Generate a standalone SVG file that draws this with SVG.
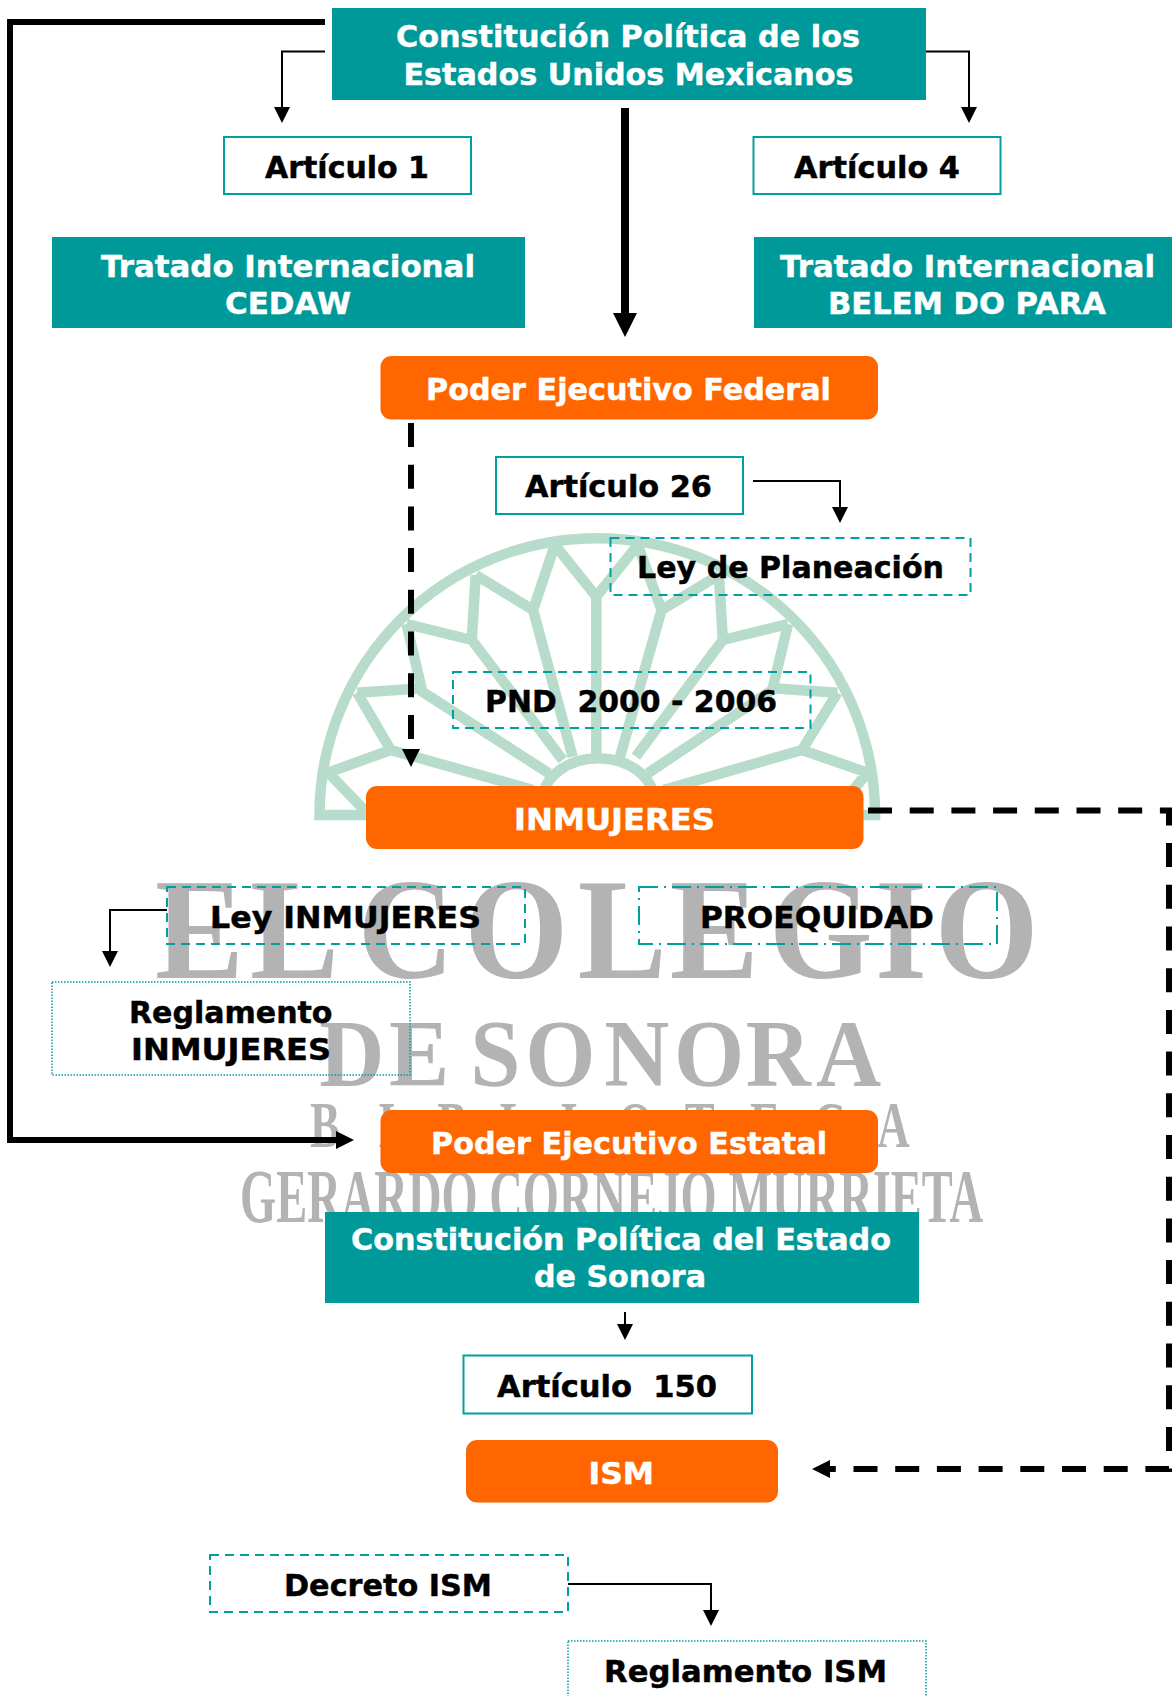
<svg xmlns="http://www.w3.org/2000/svg" width="1172" height="1696" viewBox="0 0 1172 1696">
<style>
.t{font-family:"DejaVu Sans","Verdana",sans-serif;font-weight:700;font-size:30px;text-anchor:start;white-space:pre;stroke-width:.45px}
.w{fill:#fff;stroke:#fff}.k{fill:#000;stroke:#000}
.teal{fill:#009999}.org{fill:#ff6600}
.box{fill:#fff;stroke:#00a0a0;stroke-width:2}
.dash{fill:none;stroke:#00a0a0;stroke-width:2;stroke-dasharray:9 6}
.dd{fill:none;stroke:#00a0a0;stroke-width:2;stroke-dasharray:19 6 2 6}
.dot{fill:none;stroke:#00a0a0;stroke-width:1.5;stroke-dasharray:1.5 1.5}
.wm{font-family:"Liberation Serif",serif;fill:#b3b3b3;font-weight:700}
.em{fill:none;stroke:#b8dccb;stroke-width:10.500;vector-effect:non-scaling-stroke;stroke-linejoin:miter}
.thin{fill:none;stroke:#000;stroke-width:2;marker-end:url(#hs)}
.thick{fill:none;stroke:#000;stroke-width:6}
.dk{fill:none;stroke:#000;stroke-width:6;stroke-dasharray:24 17.7}
</style>
<defs>
<marker id="hs" markerUnits="userSpaceOnUse" markerWidth="16" markerHeight="16" refX="0" refY="8" orient="auto"><path d="M0 0L16 8L0 16z"/></marker>
<marker id="hl" markerUnits="userSpaceOnUse" markerWidth="24" markerHeight="24" refX="0" refY="12" orient="auto"><path d="M0 0L24 12L0 24z"/></marker>
<marker id="hm" markerUnits="userSpaceOnUse" markerWidth="18" markerHeight="18" refX="0" refY="9" orient="auto"><path d="M0 0L18 9L0 18z"/></marker>
</defs>
<rect width="1172" height="1696" fill="#fff"/>
<g id="watermark">
<g transform="translate(280 500) scale(.3954 .3333)">
<path class="em" d="M100 945A702 830 0 0 1 1505 945Z"/>
<path class="em" d="M665 900A140 125 0 0 1 945 900"/>
<path class="em" d="M800 290V770M695 135L800 290L905 135M695 135L640 330L740 770M905 135L965 330L860 770M495 225L640 330M495 225L485 420L715 780M1110 225L965 330M1110 225L1120 420L900 770M320 372L485 420M320 372L360 575L680 820M1285 372L1120 420M1285 372L1245 570L930 820M195 578L360 565M195 578L280 750L640 870M1410 578L1245 565M1410 578L1320 750L970 870M122 818L280 750M122 818L225 945M1485 818L1320 750M1485 818L1400 945"/>
</g>
<text class="wm" transform="translate(0 978) scale(.92 1)" x="168.500 271.700 340 389 505 628 728 836 951 1016" y="0" font-size="145">EL COLEGIO</text>
<text class="wm" transform="translate(0 1086) scale(.95 1)" x="336 409.500 450 495 553 636 709.500 785 859" y="0" font-size="95">DE SONORA</text>
<text class="wm" transform="translate(0 1147) scale(.68 1)" x="456 556 643 735 824 909 1007 1103 1196 1290" y="0" font-size="66">BIBLIOTECA</text>
<text class="wm" x="240" y="1222" font-size="76" textLength="743" lengthAdjust="spacingAndGlyphs">GERARDO CORNEJO MURRIETA</text>
</g>
<g id="connectors">
<path class="thick" d="M325 22H10V1140H336" marker-end="url(#hm)"/>
<path class="thin" d="M325 51.500H282V107"/>
<path class="thin" d="M926 51.500H969V107"/>
<path d="M625 108V313" fill="none" stroke="#000" stroke-width="8" marker-end="url(#hl)"/>
<path class="thin" d="M753 481H840V507"/>
<path class="dk" d="M411 423V749" marker-end="url(#hm)"/>
<path class="thin" d="M167 910H110V951"/>
<path class="thin" d="M625 1312V1324"/>
<path class="dk" d="M868 810.500H1169V1469H830" marker-end="url(#hm)"/>
<path class="thin" d="M568 1584H711V1610"/>
</g>
<g id="n-constitucion"><rect class="teal" x="332" y="8" width="594" height="92"/>
<text class="t w" x="396" y="47" textLength="464" lengthAdjust="spacingAndGlyphs">Constitución Política de los</text>
<text class="t w" x="403.500" y="85" textLength="450" lengthAdjust="spacingAndGlyphs">Estados Unidos Mexicanos</text></g>
<g id="n-art1"><rect class="box" x="224" y="137" width="247" height="57"/>
<text class="t k" x="265" y="177.500" textLength="164" lengthAdjust="spacingAndGlyphs">Artículo 1</text></g>
<g id="n-art4"><rect class="box" x="753.500" y="137" width="247" height="57"/>
<text class="t k" x="794" y="177.500" textLength="166" lengthAdjust="spacingAndGlyphs">Artículo 4</text></g>
<g id="n-cedaw"><rect class="teal" x="52" y="237" width="473" height="91"/>
<text class="t w" x="101" y="277" textLength="374" lengthAdjust="spacingAndGlyphs">Tratado Internacional</text>
<text class="t w" x="225" y="313.500" textLength="126" lengthAdjust="spacingAndGlyphs">CEDAW</text></g>
<g id="n-belem"><rect class="teal" x="754" y="237" width="418" height="91"/>
<text class="t w" x="780" y="277" textLength="375" lengthAdjust="spacingAndGlyphs">Tratado Internacional</text>
<text class="t w" x="828" y="313.500" textLength="278" lengthAdjust="spacingAndGlyphs">BELEM DO PARA</text></g>
<g id="n-pef"><rect class="org" x="380.500" y="356" width="497.500" height="63.500" rx="11"/>
<text class="t w" x="426" y="399.500" textLength="405" lengthAdjust="spacingAndGlyphs">Poder Ejecutivo Federal</text></g>
<g id="n-art26"><rect class="box" x="496" y="457" width="247" height="57"/>
<text class="t k" x="525" y="497" textLength="187" lengthAdjust="spacingAndGlyphs">Artículo 26</text></g>
<g id="n-planeacion"><rect class="dash" x="610.500" y="538" width="360" height="57"/>
<text class="t k" x="637" y="578" textLength="307" lengthAdjust="spacingAndGlyphs">Ley de Planeación</text></g>
<g id="n-pnd"><rect class="dash" x="453" y="672" width="357.500" height="56"/>
<text class="t k" x="485" y="712" textLength="292" lengthAdjust="spacingAndGlyphs" xml:space="preserve">PND  2000 - 2006</text></g>
<g id="n-inmujeres"><rect class="org" x="366" y="786" width="497.500" height="63" rx="11"/>
<text class="t w" x="514" y="829.500" textLength="201" lengthAdjust="spacingAndGlyphs">INMUJERES</text></g>
<g id="n-ley"><rect class="dash" x="167" y="887" width="358" height="57"/>
<text class="t k" x="210" y="928" textLength="271" lengthAdjust="spacingAndGlyphs">Ley INMUJERES</text></g>
<g id="n-proequidad"><rect class="dd" x="639" y="887" width="358" height="57"/>
<text class="t k" x="700" y="928" textLength="234" lengthAdjust="spacingAndGlyphs">PROEQUIDAD</text></g>
<g id="n-reg-inm"><rect class="dot" x="52" y="982" width="358" height="93"/>
<text class="t k" x="129" y="1023" textLength="203.500" lengthAdjust="spacingAndGlyphs">Reglamento</text>
<text class="t k" x="131" y="1060" textLength="200" lengthAdjust="spacingAndGlyphs">INMUJERES</text></g>
<g id="n-pee"><rect class="org" x="380.500" y="1110" width="497.500" height="63" rx="11"/>
<text class="t w" x="431" y="1153.500" textLength="396" lengthAdjust="spacingAndGlyphs">Poder Ejecutivo Estatal</text></g>
<g id="n-sonora"><rect class="teal" x="325" y="1212" width="594" height="91"/>
<text class="t w" x="351" y="1250" textLength="540" lengthAdjust="spacingAndGlyphs">Constitución Política del Estado</text>
<text class="t w" x="534" y="1287" textLength="172" lengthAdjust="spacingAndGlyphs">de Sonora</text></g>
<g id="n-art150"><rect class="box" x="463.500" y="1355.500" width="288.500" height="58"/>
<text class="t k" x="497" y="1397" textLength="220" lengthAdjust="spacingAndGlyphs" xml:space="preserve">Artículo  150</text></g>
<g id="n-ism"><rect class="org" x="466" y="1440" width="312" height="62.500" rx="11"/>
<text class="t w" x="588.500" y="1483.500" textLength="65.500" lengthAdjust="spacingAndGlyphs">ISM</text></g>
<g id="n-decreto"><rect class="dash" x="210" y="1555" width="358" height="57"/>
<text class="t k" x="284" y="1595.500" textLength="208" lengthAdjust="spacingAndGlyphs">Decreto ISM</text></g>
<g id="n-reg-ism"><rect class="dot" x="568" y="1641" width="358" height="60"/>
<text class="t k" x="604" y="1682" textLength="283" lengthAdjust="spacingAndGlyphs">Reglamento ISM</text></g>
</svg>
